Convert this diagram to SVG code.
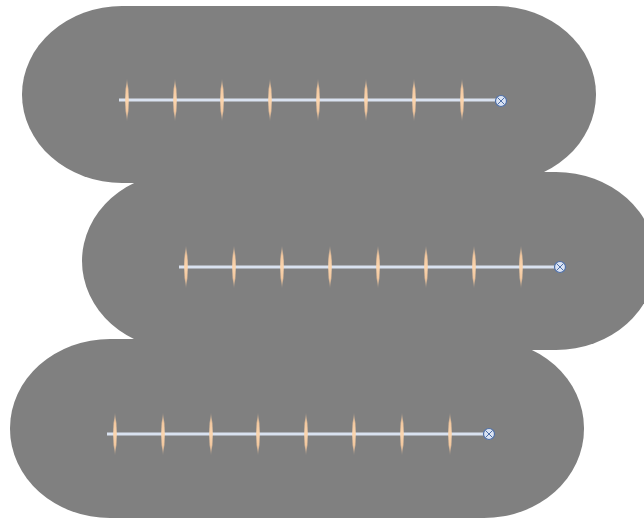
<svg xmlns="http://www.w3.org/2000/svg" width="644" height="519" viewBox="0 0 644 519">
  <defs>
    <style>
      .pad { fill: #808080; }
      .rail { stroke: #D9E2F0; stroke-width: 3; fill: none; }
      .tick { fill: url(#tickGrad); }
      .endc { fill: #DAE3F3; stroke: #4F70A8; stroke-width: 1.2; }
      .endx { stroke: #4F70A8; stroke-width: 1; }
    </style>
    <linearGradient id="tickGrad" x1="0" y1="0" x2="0" y2="1">
      <stop offset="0" stop-color="#F8CBA0" stop-opacity="0"/>
      <stop offset="0.25" stop-color="#F8CBA0" stop-opacity="0.95"/>
      <stop offset="0.5" stop-color="#FBD5AE" stop-opacity="1"/>
      <stop offset="0.75" stop-color="#F8CBA0" stop-opacity="0.95"/>
      <stop offset="1" stop-color="#F8CBA0" stop-opacity="0"/>
    </linearGradient>
    <path id="tk" class="tick" d="M0,-22 Q3.6,0 0,22 Q-3.6,0 0,-22 Z"/>
    <g id="endpt">
      <circle class="endc" r="5.5"/>
      <path class="endx" d="M-3.5,-3.5 L3.5,3.5 M-3.5,3.5 L3.5,-3.5"/>
    </g>
  </defs>

  <g id="pads">
    <rect id="pad1" class="pad" x="22" y="6" width="574" height="177" rx="100" ry="89"/>
    <rect id="pad2" class="pad" x="82" y="172" width="574" height="178" rx="100" ry="89"/>
    <rect id="pad3" class="pad" x="10" y="339" width="574" height="179" rx="100" ry="89"/>
  </g>

  <g id="row1">
    <line class="rail" x1="119" y1="100" x2="497" y2="100"/>
    <use href="#tk" x="127" y="100"/>
    <use href="#tk" x="175" y="100"/>
    <use href="#tk" x="222" y="100"/>
    <use href="#tk" x="270" y="100"/>
    <use href="#tk" x="318" y="100"/>
    <use href="#tk" x="366" y="100"/>
    <use href="#tk" x="414" y="100"/>
    <use href="#tk" x="462" y="100"/>
    <use href="#endpt" x="501" y="101"/>
  </g>

  <g id="row2">
    <line class="rail" x1="179" y1="267" x2="556" y2="267"/>
    <use href="#tk" x="186" y="267"/>
    <use href="#tk" x="234" y="267"/>
    <use href="#tk" x="282" y="267"/>
    <use href="#tk" x="330" y="267"/>
    <use href="#tk" x="378" y="267"/>
    <use href="#tk" x="426" y="267"/>
    <use href="#tk" x="474" y="267"/>
    <use href="#tk" x="521" y="267"/>
    <use href="#endpt" x="560" y="267"/>
  </g>

  <g id="row3">
    <line class="rail" x1="107" y1="434" x2="485" y2="434"/>
    <use href="#tk" x="115" y="434"/>
    <use href="#tk" x="163" y="434"/>
    <use href="#tk" x="211" y="434"/>
    <use href="#tk" x="258" y="434"/>
    <use href="#tk" x="306" y="434"/>
    <use href="#tk" x="354" y="434"/>
    <use href="#tk" x="402" y="434"/>
    <use href="#tk" x="450" y="434"/>
    <use href="#endpt" x="489" y="434"/>
  </g>
</svg>
